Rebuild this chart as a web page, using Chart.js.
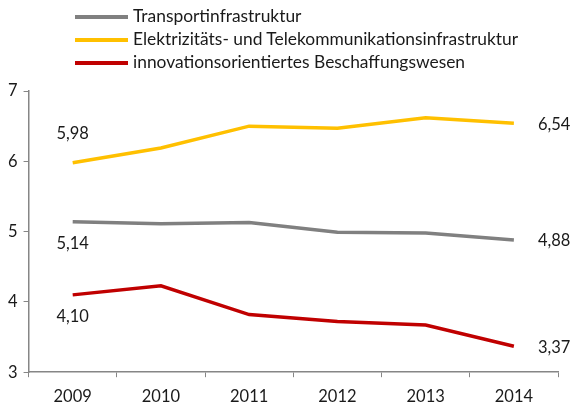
<!DOCTYPE html>
<html>
<head>
<meta charset="utf-8">
<script src="https://cdn.jsdelivr.net/npm/chart.js@4/dist/chart.umd.min.js"></script>
<style>
  html, body { margin: 0; padding: 0; background: #fff; }
  #wrap { position: relative; width: 573px; height: 405px; overflow: hidden; }
  #legend { position: absolute; left: 75px; top: 4px; font-family: Lato, "Open Sans", sans-serif; font-size: 17.4px; color: #1a1a1a; }
  #legend div { height: 23px; line-height: 23px; white-space: nowrap; }
  #legend span.swatch { display: inline-block; width: 53px; height: 4px; vertical-align: middle; margin-right: 5px; margin-top: -2px; }
</style>
</head>
<body>
<div id="wrap">
  <canvas id="chart" width="573" height="420"></canvas>
  <div id="legend"></div>
</div>
<script>
// Categories and series values
const years = ["2009", "2010", "2011", "2012", "2013", "2014"];
const transport = [5.14, 5.11, 5.13, 4.99, 4.98, 4.88];
const elektro = [5.98, 6.19, 6.50, 6.47, 6.62, 6.54];
const innovation = [4.10, 4.23, 3.82, 3.72, 3.67, 3.37];
const seriesNames = [
    "Transportinfrastruktur",
    "Elektrizitäts- und Telekommunikationsinfrastruktur",
    "innovationsorientiertes Beschaffungswesen"
];
const seriesColors = ["#808080", "#FFC000", "#C00000"];
// where the first-point label sits: above or below the line
const firstLabelSide = ["below", "above", "below"];

const fontFamily = "Lato, 'Open Sans', sans-serif";

// Simple HTML legend
const legendEl = document.getElementById("legend");
seriesNames.forEach((name, i) => {
    const row = document.createElement("div");
    row.innerHTML = '<span class="swatch" style="background:' + seriesColors[i] + '"></span>' + name;
    legendEl.appendChild(row);
});

// Draw value labels at first and last point
const endLabels = {
    id: "endLabels",
    afterDatasetsDraw(chart) {
        const ctx = chart.ctx;
        ctx.save();
        ctx.font = "16.5px " + fontFamily;
        ctx.fillStyle = "#1a1a1a";
        ctx.textBaseline = "middle";
        chart.data.datasets.forEach((ds, i) => {
            const pts = chart.getDatasetMeta(i).data;
            const fmt = v => v.toFixed(2).replace(".", ",");
            const first = pts[0];
            const last = pts[pts.length - 1];
            ctx.textAlign = "center";
            const dy = firstLabelSide[i] === "above" ? -29 : 22;
            ctx.fillText(fmt(ds.data[0]), first.x, first.y + dy);
            ctx.textAlign = "left";
            ctx.fillText(fmt(ds.data[ds.data.length - 1]), last.x + 24, last.y + 1);
        });
        ctx.restore();
    }
};

const datasets = [transport, elektro, innovation].map((vals, i) => ({
    label: seriesNames[i],
    data: vals,
    borderColor: seriesColors[i],
    backgroundColor: seriesColors[i],
    borderWidth: 3.5,
    pointRadius: 0,
    tension: 0,
    fill: false
}));

new Chart(document.getElementById("chart"), {
    type: "line",
    data: { labels: years, datasets: datasets },
    plugins: [endLabels],
    options: {
        responsive: false,
        animation: false,
        layout: { padding: { top: 91, right: 15, left: 2, bottom: 3 } },
        plugins: {
            legend: { display: false },
            tooltip: { enabled: false }
        },
        scales: {
            x: {
                offset: true,
                grid: { offset: true, drawOnChartArea: false, drawTicks: true, tickLength: 5, color: "#868686" },
                border: { color: "#868686", width: 1.5 },
                ticks: { color: "#1a1a1a", font: { family: fontFamily, size: 16.5 }, padding: 10 }
            },
            y: {
                min: 3,
                max: 7,
                grid: { drawOnChartArea: false, drawTicks: true, tickLength: 5, color: "#868686" },
                border: { color: "#868686", width: 1.5 },
                ticks: { stepSize: 1, color: "#1a1a1a", font: { family: fontFamily, size: 16.5 }, padding: 6 }
            }
        }
    }
});
</script>
</body>
</html>
